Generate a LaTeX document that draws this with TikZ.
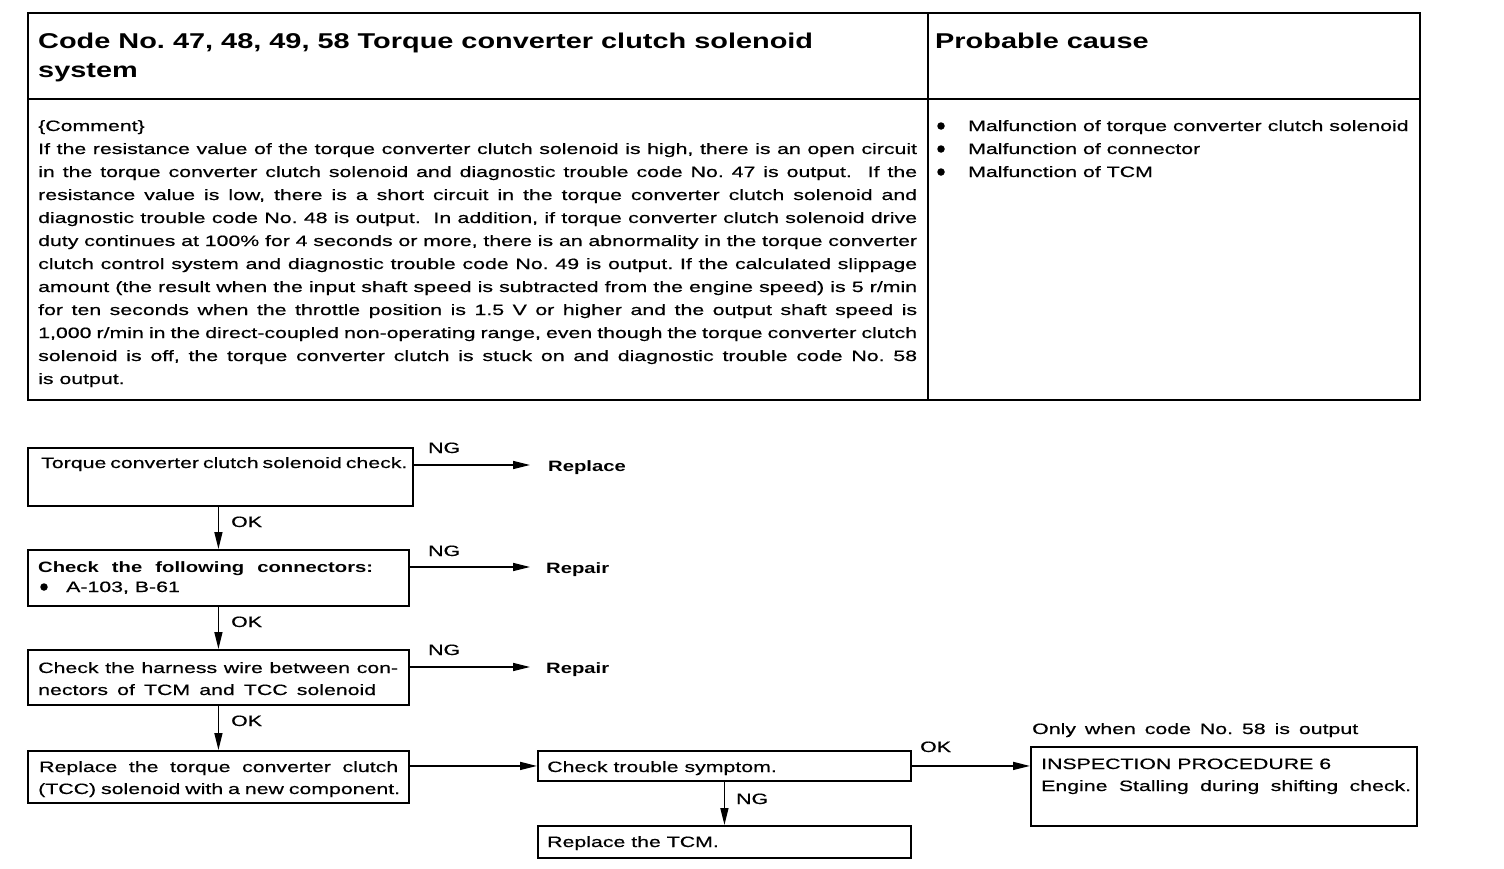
\documentclass[tikz,border=0pt]{standalone}
\usepackage{fontspec}
\setmainfont[FakeStretch=1.42, UprightFeatures={FakeBold=0.5}, BoldFeatures={FakeStretch=1.35}]{Liberation Sans}
\usetikzlibrary{arrows.meta}
\newcommand{\bodyf}{\fontsize{15pt}{23pt}\selectfont}
\newcommand{\bodyb}{\fontsize{15pt}{23pt}\selectfont\bfseries}
\newcommand{\headf}{\fontsize{21.4pt}{29pt}\selectfont\bfseries}
\newcommand{\jl}[2]{\makebox[#1][s]{#2}}
\frenchspacing
\begin{document}
\begin{tikzpicture}[x=1pt,y=-1pt,
  tbl/.style={line width=2.4pt},
  flowbox/.style={draw, line width=1.9pt, inner sep=0pt, anchor=north west},
  txt/.style={inner sep=0pt, anchor=base west, font=\bodyf},
  txtb/.style={inner sep=0pt, anchor=base west, font=\bodyb},
  arr/.style={line width=1.5pt, -{Triangle[length=17pt,width=8pt]}},
  dot/.style={circle, fill, inner sep=0pt, minimum size=7.5pt}]
\useasboundingbox (0,0) rectangle (1504,868);

% ---------- table ----------
\draw[tbl] (28,13) rectangle (1420,400);
\draw[tbl] (928,13) -- (928,400);
\draw[tbl] (28,99) -- (1420,99);

\node[inner sep=0pt, anchor=base west, font=\headf] (h1) at (38,48) {Code No. 47, 48, 49, 58 Torque converter clutch solenoid};
\node[inner sep=0pt, anchor=base west, font=\headf] (h2) at (38,77) {system};
\node[inner sep=0pt, anchor=base west, font=\headf] (h3) at (935,48) {Probable cause};

\node[txt] (com) at (38,131) {\parbox[t]{879pt}{\bodyf\baselineskip=23pt
\{Comment\}\\
\jl{879pt}{If the resistance value of the torque converter clutch solenoid is high, there is an open circuit}\\
\jl{879pt}{in the torque converter clutch solenoid and diagnostic trouble code No. 47 is output.\ \ If the}\\
\jl{879pt}{resistance value is low, there is a short circuit in the torque converter clutch solenoid and}\\
\jl{879pt}{diagnostic trouble code No. 48 is output.\ \ In addition, if torque converter clutch solenoid drive}\\
\jl{879pt}{duty continues at 100\% for 4 seconds or more, there is an abnormality in the torque converter}\\
\jl{879pt}{clutch control system and diagnostic trouble code No. 49 is output. If the calculated slippage}\\
\jl{879pt}{amount (the result when the input shaft speed is subtracted from the engine speed) is 5 r/min}\\
\jl{879pt}{for ten seconds when the throttle position is 1.5 V or higher and the output shaft speed is}\\
\jl{879pt}{1,000 r/min in the direct-coupled non-operating range, even though the torque converter clutch}\\
\jl{879pt}{solenoid is off, the torque converter clutch is stuck on and diagnostic trouble code No. 58}\\
is output.}};

\node[dot] (d1) at (941,126) {};
\node[dot] (d2) at (941,149) {};
\node[dot] (d3) at (941,172) {};
\node[txt] (c1) at (968,131) {Malfunction of torque converter clutch solenoid};
\node[txt] (c2) at (968,154) {Malfunction of connector};
\node[txt] (c3) at (968,177) {Malfunction of TCM};

% ---------- flow boxes ----------
\node[flowbox, minimum width=385pt, minimum height=58pt] (b1) at (27,447) {};
\node[flowbox, minimum width=381pt, minimum height=56pt] (b2) at (27,549) {};
\node[flowbox, minimum width=381pt, minimum height=55pt] (b3) at (27,649) {};
\node[flowbox, minimum width=381pt, minimum height=52pt] (b4) at (27,750) {};
\node[flowbox, minimum width=373pt, minimum height=30pt] (b5) at (537,750) {};
\node[flowbox, minimum width=373pt, minimum height=32pt] (b6) at (537,825) {};
\node[flowbox, minimum width=386pt, minimum height=79pt] (b7) at (1030,746) {};

% box texts
\node[txt] (t1) at (41,468) {\jl{364pt}{Torque converter clutch solenoid check.}};
\node[txtb] (t2a) at (38,572) {\jl{335pt}{Check the following connectors:}};
\node[dot] (d4) at (44,587) {};
\node[txt] (t2b) at (66,592) {A-103, B-61};
\node[txt] (t3a) at (38,673) {\jl{360pt}{Check the harness wire between con-}};
\node[txt] (t3b) at (38,695) {\jl{338pt}{nectors of TCM and TCC solenoid}};
\node[txt] (t4a) at (39,772) {\jl{359pt}{Replace the torque converter clutch}};
\node[txt] (t4b) at (38,794) {\jl{362pt}{(TCC) solenoid with a new component.}};
\node[txt] (t5) at (547,772) {Check trouble symptom.};
\node[txt] (t6) at (547,847) {Replace the TCM.};
\node[txt] (t7a) at (1041,769) {INSPECTION PROCEDURE 6};
\node[txt] (t7b) at (1041,791) {\jl{370pt}{Engine Stalling during shifting check.}};
\node[txt] (t7c) at (1032,734) {\jl{326pt}{Only when code No. 58 is output}};

% results
\node[txtb] (r1) at (548,471) {Replace};
\node[txtb] (r2) at (546,573) {Repair};
\node[txtb] (r3) at (546,673) {Repair};
\coordinate (e1) at (530,465);
\coordinate (e2) at (530,567);
\coordinate (e3) at (530,667);

% connectors
\draw[arr] (b1.east |- e1) -- (e1);
\draw[arr] (b2.east |- e2) -- (e2);
\draw[arr] (b3.east |- e3) -- (e3);
\draw[arr] (b1.south -| b2.north) -- (b2.north);
\draw[arr] (b2.south) -- (b3.north);
\draw[arr] (b3.south) -- (b4.north);
\draw[arr] (b4.east |- b5.west) -- (b5.west);
\draw[arr] (b5.south) -- (b6.north);
\draw[arr] (b5.east) -- (b7.west |- b5.east);

% labels
\node[txt] (ng1) at (428,453) {NG};
\node[txt] (ng2) at (428,556) {NG};
\node[txt] (ng3) at (428,655) {NG};
\node[txt] (ok1) at (231,527) {OK};
\node[txt] (ok2) at (231,627) {OK};
\node[txt] (ok3) at (231,726) {OK};
\node[txt] (ng4) at (736,804) {NG};
\node[txt] (ok4) at (920,752) {OK};
\end{tikzpicture}
\end{document}
